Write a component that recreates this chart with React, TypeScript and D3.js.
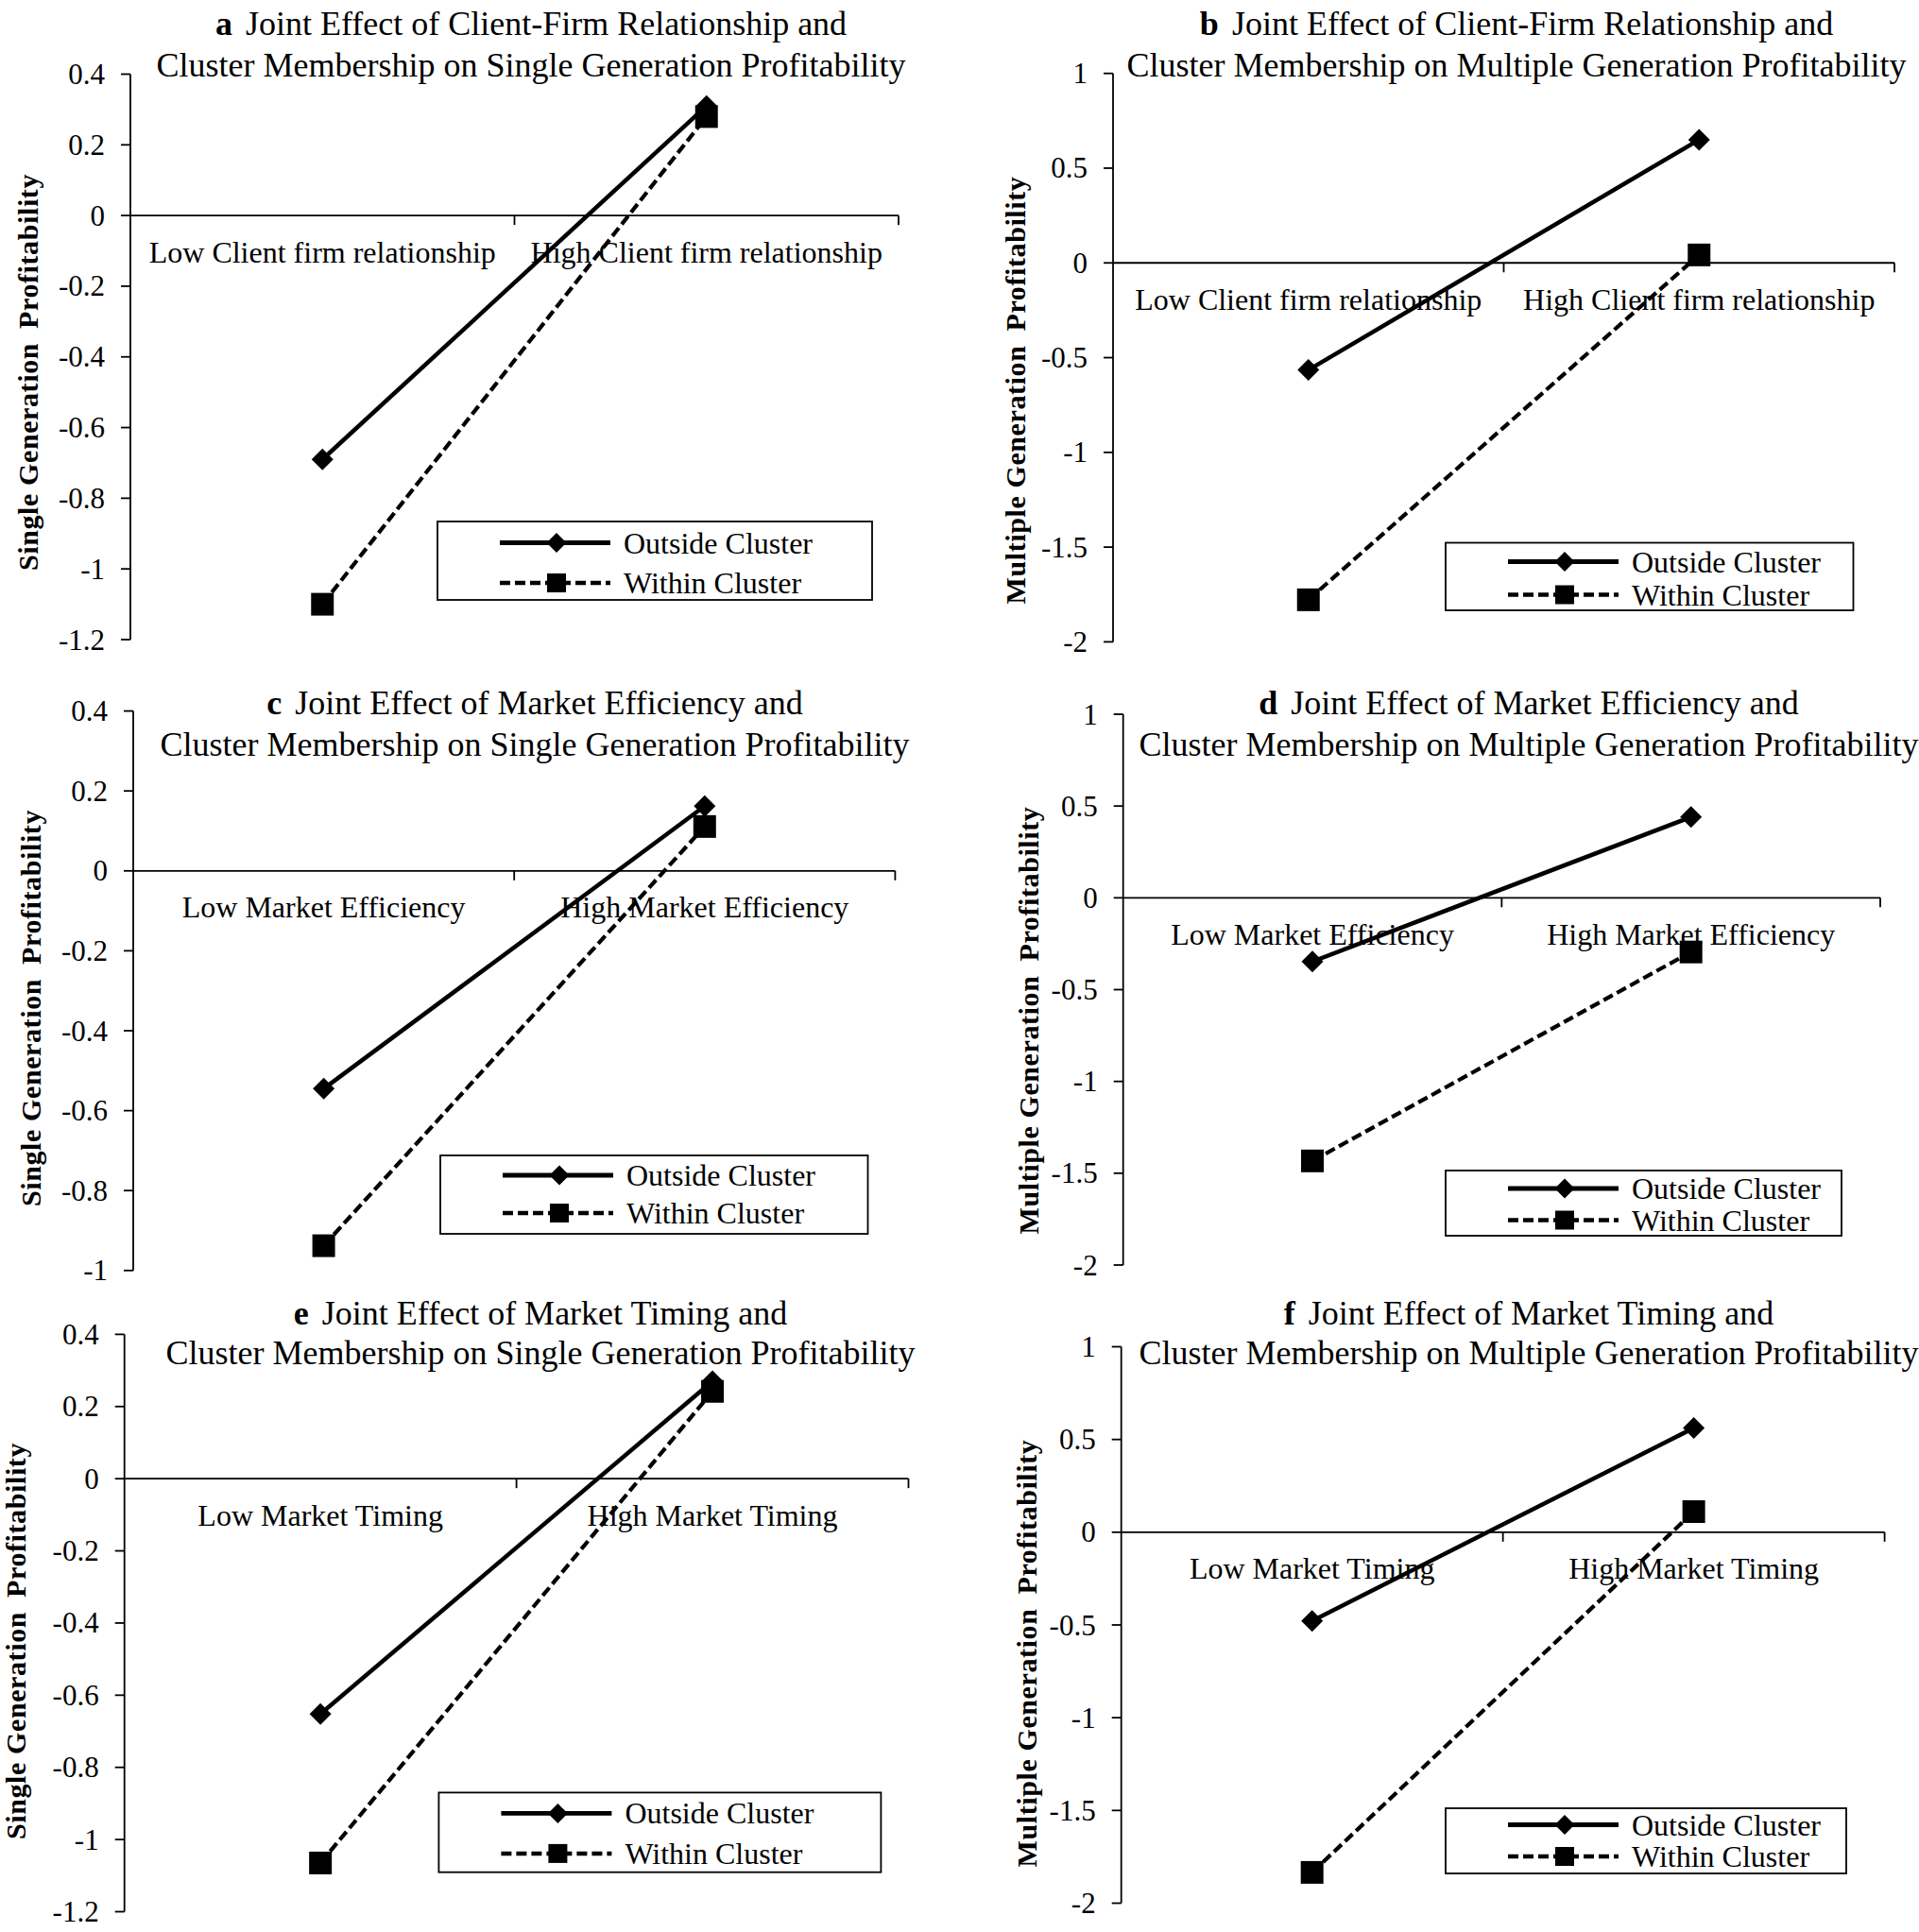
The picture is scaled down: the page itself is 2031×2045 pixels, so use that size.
import React from 'react';
import * as d3 from 'd3';

// panel letters and titles
const letters = ['a', 'b', 'c', 'd', 'e', 'f'];
const titleTop = [
  'Joint Effect of Client-Firm Relationship and',
  'Joint Effect of Client-Firm Relationship and',
  'Joint Effect of Market Efficiency and',
  'Joint Effect of Market Efficiency and',
  'Joint Effect of Market Timing and',
  'Joint Effect of Market Timing and',
];
const titleBottom = [
  'Cluster Membership on Single Generation Profitability',
  'Cluster Membership on Multiple Generation Profitability',
  'Cluster Membership on Single Generation Profitability',
  'Cluster Membership on Multiple Generation Profitability',
  'Cluster Membership on Single Generation Profitability',
  'Cluster Membership on Multiple Generation Profitability',
];
// y axis titles, split where the wider gap sits
const yTitleFirst = [
  'Single Generation',
  'Multiple Generation',
  'Single Generation',
  'Multiple Generation',
  'Single Generation',
  'Multiple Generation',
];
const yTitleSecond = 'Profitability';

// categories on x
const categories = [
  ['Low Client firm relationship', 'High Client firm relationship'],
  ['Low Client firm relationship', 'High Client firm relationship'],
  ['Low Market Efficiency', 'High Market Efficiency'],
  ['Low Market Efficiency', 'High Market Efficiency'],
  ['Low Market Timing', 'High Market Timing'],
  ['Low Market Timing', 'High Market Timing'],
];

// series values (low, high)
const outsideCluster = [
  [-0.69, 0.31],
  [-0.565, 0.65],
  [-0.545, 0.162],
  [-0.347, 0.44],
  [-0.652, 0.27],
  [-0.478, 0.562],
];
const withinCluster = [
  [-1.1, 0.28],
  [-1.778, 0.042],
  [-0.938, 0.111],
  [-1.433, -0.295],
  [-1.065, 0.242],
  [-1.834, 0.111],
];

// y tick values
const ticksSingle = [0.4, 0.2, 0, -0.2, -0.4, -0.6, -0.8, -1, -1.2];
const ticksSingleC = [0.4, 0.2, 0, -0.2, -0.4, -0.6, -0.8, -1];
const ticksMultiple = [1, 0.5, 0, -0.5, -1, -1.5, -2];
const yTicks = [ticksSingle, ticksMultiple, ticksSingleC, ticksMultiple, ticksSingle, ticksMultiple];

const seriesNames = ['Outside Cluster', 'Within Cluster'];

// where each panel sits on the page
const layout = [
  { ax: 138, ax1: 951, yTop: 78.5, yBot: 677, t1: 24.5, t2: 69, tx: 562, ytx: 29, yty: 394, leg: { x: 463, y: 552, w: 460, h: 83, r1: 22.5, r2: 65 } },
  { ax: 1178, ax1: 2005, yTop: 77.7, yBot: 679.4, t1: 24.5, t2: 69, tx: 1605, ytx: 1074, yty: 413, leg: { x: 1530, y: 574.5, w: 431.5, h: 71.5, r1: 20, r2: 55 } },
  { ax: 141, ax1: 947.4, yTop: 752.6, yBot: 1344.8, t1: 744, t2: 788.4, tx: 566, ytx: 32, yty: 1067, leg: { x: 466, y: 1223, w: 452.5, h: 83, r1: 21, r2: 61 } },
  { ax: 1188.7, ax1: 1990, yTop: 756, yBot: 1339, t1: 744, t2: 788.4, tx: 1618, ytx: 1088, yty: 1080, leg: { x: 1530, y: 1239, w: 419, h: 69, r1: 19, r2: 52.5 } },
  { ax: 131.7, ax1: 961.5, yTop: 1412.4, yBot: 2023.5, t1: 1389.7, t2: 1432, tx: 572, ytx: 16, yty: 1737, leg: { x: 464.4, y: 1897.4, w: 468, h: 84.3, r1: 22, r2: 64.5 } },
  { ax: 1186.7, ax1: 1994.6, yTop: 1425.5, yBot: 2014.5, t1: 1389.7, t2: 1432, tx: 1618, ytx: 1086, yty: 1750, leg: { x: 1530, y: 1914, w: 424, h: 69, r1: 17.5, r2: 51 } },
];

const FONT = '"Liberation Serif", "Times New Roman", serif';
const DASH = '11 5';

// square rotated 45 degrees, like the excel diamond
const squareDiamond = {
  draw(ctx: any, size: number) {
    const r = Math.sqrt(size / 2);
    ctx.moveTo(0, -r);
    ctx.lineTo(r, 0);
    ctx.lineTo(0, r);
    ctx.lineTo(-r, 0);
    ctx.closePath();
  },
};

const diamondPath = d3.symbol().type(squareDiamond as any).size(2 * 11.5 * 11.5)()!;
const legendDiamondPath = d3.symbol().type(squareDiamond as any).size(2 * 10.5 * 10.5)()!;
const squarePath = d3.symbol().type(d3.symbolSquare).size(24 * 24)()!;
const legendSquarePath = d3.symbol().type(d3.symbolSquare).size(20 * 20)()!;

const Panel: React.FC<{ i: number }> = ({ i }) => {
  const L = layout[i];
  const cats = categories[i];
  const ticks = yTicks[i];

  const y = d3.scaleLinear()
    .domain([ticks[ticks.length - 1], ticks[0]])
    .range([L.yBot, L.yTop]);
  const x = d3.scaleBand<string>()
    .domain(cats)
    .range([L.ax, L.ax1])
    .paddingInner(0)
    .paddingOuter(0);
  const cx = (c: string) => x(c)! + x.bandwidth() / 2;
  const y0 = y(0);

  const line = d3.line<[string, number]>()
    .x(d => cx(d[0]))
    .y(d => y(d[1]));

  const outside: [string, number][] = cats.map((c, k) => [c, outsideCluster[i][k]]);
  const within: [string, number][] = cats.map((c, k) => [c, withinCluster[i][k]]);

  const leg = L.leg;
  const lx0 = leg.x + 66;
  const lx1 = leg.x + 183;
  const lm = leg.x + 126;

  return (
    <g fontFamily={FONT} fill="#000">
      {/* title */}
      <text x={L.tx} y={L.t1 + 12} textAnchor="middle" fontSize={36}>
        <tspan fontWeight="bold">{letters[i]}</tspan>
        <tspan dx={14}>{titleTop[i]}</tspan>
      </text>
      <text x={L.tx} y={L.t2 + 12} textAnchor="middle" fontSize={36}>
        {titleBottom[i]}
      </text>

      {/* y axis */}
      <line x1={L.ax} x2={L.ax} y1={L.yTop} y2={L.yBot} stroke="#000" strokeWidth={1.8} />
      {ticks.map(t => (
        <g key={t}>
          <line x1={L.ax - 10} x2={L.ax} y1={y(t)} y2={y(t)} stroke="#000" strokeWidth={1.8} />
          <text x={L.ax - 27} y={y(t) + 10.5} textAnchor="end" fontSize={31}>{String(t)}</text>
        </g>
      ))}

      {/* x axis on zero */}
      <line x1={L.ax} x2={L.ax1} y1={y0} y2={y0} stroke="#000" strokeWidth={1.8} />
      {cats.map(c => (
        <line key={c} x1={x(c)! + x.bandwidth()} x2={x(c)! + x.bandwidth()} y1={y0} y2={y0 + 10} stroke="#000" strokeWidth={1.8} />
      ))}
      {cats.map(c => (
        <text key={c} x={cx(c)} y={y0 + 38.5 + 11} textAnchor="middle" fontSize={32}>{c}</text>
      ))}

      {/* y title */}
      <text
        transform={`translate(${L.ytx},${L.yty}) rotate(-90)`}
        textAnchor="middle"
        dominantBaseline="central"
        fontSize={30}
        fontWeight="bold"
        letterSpacing={0.6}
      >
        {yTitleFirst[i]}
        <tspan dx={7}> {yTitleSecond}</tspan>
      </text>

      {/* series */}
      <path d={line(within)!} fill="none" stroke="#000" strokeWidth={4.2} strokeDasharray={DASH} />
      <path d={line(outside)!} fill="none" stroke="#000" strokeWidth={4.5} />
      {outside.map(d => (
        <path key={d[0]} d={diamondPath} transform={`translate(${cx(d[0])},${y(d[1])})`} fill="#000" />
      ))}
      {within.map(d => (
        <path key={d[0]} d={squarePath} transform={`translate(${cx(d[0])},${y(d[1])})`} fill="#000" />
      ))}

      {/* legend */}
      <rect x={leg.x} y={leg.y} width={leg.w} height={leg.h} fill="#fff" stroke="#000" strokeWidth={1.8} />
      <line x1={lx0} x2={lx1} y1={leg.y + leg.r1} y2={leg.y + leg.r1} stroke="#000" strokeWidth={4.8} />
      <path d={legendDiamondPath} transform={`translate(${lm},${leg.y + leg.r1})`} fill="#000" />
      <text x={leg.x + 197} y={leg.y + leg.r1 + 11} fontSize={32}>{seriesNames[0]}</text>
      <line x1={lx0} x2={lx1} y1={leg.y + leg.r2} y2={leg.y + leg.r2} stroke="#000" strokeWidth={4.5} strokeDasharray={DASH} />
      <path d={legendSquarePath} transform={`translate(${lm},${leg.y + leg.r2})`} fill="#000" />
      <text x={leg.x + 197} y={leg.y + leg.r2 + 11} fontSize={32}>{seriesNames[1]}</text>
    </g>
  );
};

const App: React.FC = () => (
  <svg
    width={2031}
    height={2045}
    style={{ position: 'absolute', left: 0, top: 0, background: '#fff', display: 'block' }}
  >
    <rect width={2031} height={2045} fill="#fff" />
    {letters.map((_, i) => <Panel key={i} i={i} />)}
  </svg>
);

export default App;
